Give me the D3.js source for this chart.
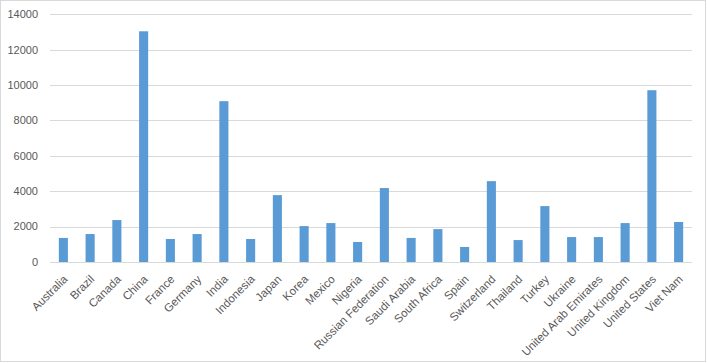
<!DOCTYPE html>
<html>
<head>
    <script src="https://d3js.org/d3.v7.min.js"></script>
    <style>
        body { margin: 0; background: #fff; }
        text { font-family: "Liberation Sans", Arial, sans-serif; fill: #595959; }
        .grid line { stroke: #d9d9d9; stroke-width: 1px; }
    </style>
</head>
<body>
    <script>
        var countries = ["Australia", "Brazil", "Canada", "China", "France", "Germany", "India",
            "Indonesia", "Japan", "Korea", "Mexico", "Nigeria", "Russian Federation", "Saudi Arabia",
            "South Africa", "Spain", "Switzerland", "Thailand", "Turkey", "Ukraine",
            "United Arab Emirates", "United Kingdom", "United States", "Viet Nam"];
        var values = [1360, 1580, 2370, 13040, 1300, 1580, 9090,
            1300, 3780, 2030, 2200, 1130, 4180, 1360,
            1860, 850, 4570, 1240, 3160, 1410,
            1410, 2200, 9710, 2260];
        var yTicks = [0, 2000, 4000, 6000, 8000, 10000, 12000, 14000];

        var width = 707, height = 363;
        var plotLeft = 50, plotRight = 692, plotTop = 14.3, plotBottom = 262;

        var svg = d3.select("body").append("svg")
            .attr("width", width)
            .attr("height", height);

        svg.append("rect")
            .attr("x", 0.5).attr("y", 0.5)
            .attr("width", width - 2).attr("height", height - 2)
            .attr("fill", "#fff")
            .attr("stroke", "#d9d9d9");

        var x = d3.scaleBand()
            .domain(countries)
            .range([plotLeft, plotRight])
            .paddingInner(0.66)
            .paddingOuter(0.33);

        var y = d3.scaleLinear()
            .domain([0, 14000])
            .range([plotBottom, plotTop]);

        // gridlines
        svg.append("g")
            .attr("class", "grid")
            .selectAll("line")
            .data(yTicks)
            .enter().append("line")
            .attr("x1", plotLeft).attr("x2", plotRight)
            .attr("y1", function(d) { return Math.round(y(d)) + 0.5; })
            .attr("y2", function(d) { return Math.round(y(d)) + 0.5; });

        // y labels
        svg.append("g")
            .selectAll("text")
            .data(yTicks)
            .enter().append("text")
            .attr("x", 38)
            .attr("y", function(d) { return y(d); })
            .attr("dy", "0.35em")
            .attr("text-anchor", "end")
            .style("font-size", "11px")
            .text(function(d) { return d; });

        // bars
        svg.append("g")
            .selectAll("rect")
            .data(values)
            .enter().append("rect")
            .attr("x", function(d, i) { return x(countries[i]); })
            .attr("width", x.bandwidth())
            .attr("y", function(d) { return y(d); })
            .attr("height", function(d) { return y(0) - y(d); })
            .attr("fill", "#5b9bd5");

        // x labels
        svg.append("g")
            .selectAll("text")
            .data(countries)
            .enter().append("text")
            .attr("transform", function(d) {
                return "translate(" + (x(d) + x.bandwidth() / 2 + 2) + "," + 277 + ") rotate(-45)";
            })
            .attr("dy", "0.35em")
            .attr("text-anchor", "end")
            .style("font-size", "11.5px")
            .text(function(d) { return d; });
    </script>
</body>
</html>
